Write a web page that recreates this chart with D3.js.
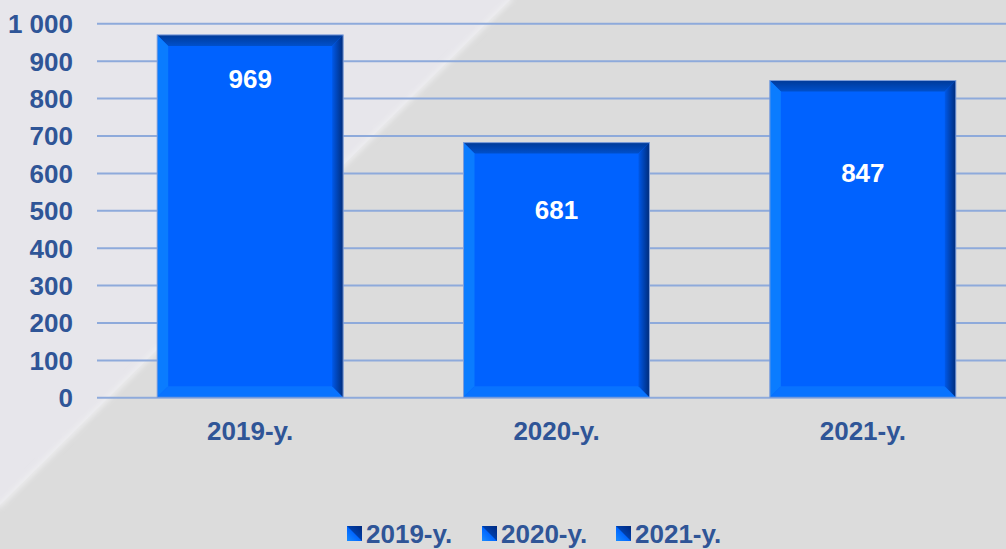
<!DOCTYPE html>
<html>
<head>
<meta charset="utf-8">
<script src="https://cdn.jsdelivr.net/npm/d3@7"></script>
<style>
  html, body { margin: 0; padding: 0; background: #dcdcdc; }
  svg { display: block; font-family: "Liberation Sans", Arial, sans-serif; }
</style>
</head>
<body>
<div id="chart"></div>
<script>
const categories = ["2019-y.", "2020-y.", "2021-y."];
const values = [969, 681, 847];
const yTicks = [0, 100, 200, 300, 400, 500, 600, 700, 800, 900, 1000];
// how far below the bar top each value label sits
const labelOffsets = [44, 67, 92];

const width = 1006;
const height = 549;
const marginTop = 23.3;
const marginLeft = 97;
const plotBottom = 397.3;
const textColor = "#2f5597";
const bevel = 11;

const locale = d3.formatLocale({ decimal: ",", thousands: " ", grouping: [3], currency: ["", ""] });
const fmt = locale.format(",d");

const svg = d3.select("#chart")
    .append("svg")
    .attr("width", width)
    .attr("height", height);

const defs = svg.append("defs");

// background: lighter triangle top-left, grey elsewhere, soft highlight on the seam
svg.append("rect").attr("width", width).attr("height", height).attr("fill", "#dcdcdc");
svg.append("path").attr("d", "M0,0 L510,0 L0,505 Z").attr("fill", "#e7e6eb");
defs.append("filter").attr("id", "soft")
    .append("feGaussianBlur").attr("stdDeviation", 2.5);
svg.append("line")
    .attr("x1", 512).attr("y1", -2).attr("x2", -2).attr("y2", 507)
    .attr("stroke", "#efeff1").attr("stroke-width", 4)
    .attr("filter", "url(#soft)");

const x = d3.scaleBand()
    .domain(categories)
    .range([marginLeft, 1016])
    .paddingInner(0.393)
    .paddingOuter(0.1965);

const y = d3.scaleLinear()
    .domain([0, 1000])
    .range([plotBottom, marginTop]);

// gridlines + y labels
const yAxis = svg.append("g")
    .attr("transform", `translate(${marginLeft},0)`)
    .call(d3.axisLeft(y).tickValues(yTicks).tickSize(-(width - marginLeft)).tickFormat(fmt).tickPadding(24));
yAxis.select(".domain").remove();
yAxis.selectAll(".tick line")
    .attr("stroke", "#8eaadb")
    .attr("stroke-width", 2);
yAxis.selectAll(".tick text")
    .attr("fill", textColor)
    .attr("font-size", 26)
    .attr("font-weight", "bold")
    .attr("dy", "0.36em");

// gradients for bevels
const rightGrad = defs.append("linearGradient").attr("id", "rightGrad")
    .attr("x1", 0).attr("x2", 1).attr("y1", 0).attr("y2", 0);
rightGrad.append("stop").attr("offset", 0).attr("stop-color", "#0058e8");
rightGrad.append("stop").attr("offset", 1).attr("stop-color", "#002c7a");
const topGrad = defs.append("linearGradient").attr("id", "topGrad")
    .attr("x1", 0).attr("x2", 0).attr("y1", 0).attr("y2", 1);
topGrad.append("stop").attr("offset", 0).attr("stop-color", "#003a98");
topGrad.append("stop").attr("offset", 1).attr("stop-color", "#0050cc");

const bars = svg.append("g")
    .selectAll("g")
    .data(categories.map((c, i) => ({ c, v: values[i], off: labelOffsets[i] })))
    .join("g");

bars.each(function(d) {
    const g = d3.select(this);
    const x0 = x(d.c), x1 = x(d.c) + x.bandwidth();
    const y0 = y(d.v), y1 = y(0);
    const b = bevel;
    g.append("rect")
        .attr("x", x0).attr("y", y0)
        .attr("width", x1 - x0).attr("height", y1 - y0)
        .attr("fill", "#0062ff");
    g.append("path")
        .attr("d", `M${x0},${y0}L${x1},${y0}L${x1 - b},${y0 + b}L${x0 + b},${y0 + b}Z`)
        .attr("fill", "url(#topGrad)");
    g.append("path")
        .attr("d", `M${x0},${y0}L${x0 + b},${y0 + b}L${x0 + b},${y1 - b}L${x0},${y1}Z`)
        .attr("fill", "#0a7cff");
    g.append("path")
        .attr("d", `M${x0},${y1}L${x0 + b},${y1 - b}L${x1 - b},${y1 - b}L${x1},${y1}Z`)
        .attr("fill", "#0873ff");
    g.append("path")
        .attr("d", `M${x1},${y0}L${x1},${y1}L${x1 - b},${y1 - b}L${x1 - b},${y0 + b}Z`)
        .attr("fill", "url(#rightGrad)");
    g.append("rect")
        .attr("x", x0).attr("y", y0)
        .attr("width", x1 - x0).attr("height", y1 - y0)
        .attr("fill", "none")
        .attr("stroke", "#7f9ed8")
        .attr("stroke-width", 1);
    g.append("text")
        .attr("x", (x0 + x1) / 2)
        .attr("y", y0 + d.off)
        .attr("dy", "0.36em")
        .attr("text-anchor", "middle")
        .attr("fill", "#ffffff")
        .attr("font-size", 26)
        .attr("font-weight", "bold")
        .text(d.v);
});

// category labels
const xAxis = svg.append("g")
    .attr("transform", `translate(0,${plotBottom})`)
    .call(d3.axisBottom(x).tickSize(0).tickPadding(0));
xAxis.select(".domain").remove();
xAxis.selectAll(".tick text")
    .attr("y", 33)
    .attr("dy", "0.36em")
    .attr("fill", textColor)
    .attr("font-size", 26)
    .attr("font-weight", "bold");

// legend
const legendGrad = defs.append("linearGradient").attr("id", "legendGrad")
    .attr("x1", 0).attr("y1", 1).attr("x2", 1).attr("y2", 0);
legendGrad.append("stop").attr("offset", 0).attr("stop-color", "#1a8cff");
legendGrad.append("stop").attr("offset", 0.48).attr("stop-color", "#0066ff");
legendGrad.append("stop").attr("offset", 0.52).attr("stop-color", "#003ea8");
legendGrad.append("stop").attr("offset", 1).attr("stop-color", "#002a80");

const legendX = [347, 482, 616];
const legend = svg.append("g")
    .selectAll("g")
    .data(categories)
    .join("g")
    .attr("transform", (d, i) => `translate(${legendX[i]},526)`);
legend.append("rect")
    .attr("width", 15).attr("height", 15)
    .attr("fill", "url(#legendGrad)");
legend.append("text")
    .attr("x", 19)
    .attr("y", 7.5)
    .attr("dy", "0.36em")
    .attr("fill", textColor)
    .attr("font-size", 26)
    .attr("font-weight", "bold")
    .text(d => d);
</script>
</body>
</html>
